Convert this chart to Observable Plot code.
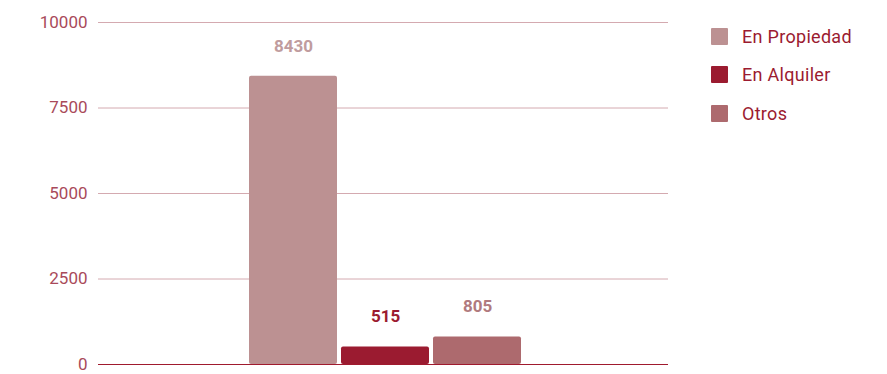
<!DOCTYPE html>
<html>
<head>
<meta charset="utf-8">
<script src="https://cdn.jsdelivr.net/npm/d3@7"></script>
<script src="https://cdn.jsdelivr.net/npm/@observablehq/plot@0.6"></script>
<style>
  body { margin: 0; background: #fff; font-family: Roboto, sans-serif; }
  #wrap { display: flex; width: 887px; height: 374px; }
  #legend { padding-top: 17px; padding-left: 21px; }
  .item { display: flex; align-items: center; height: 38.5px; }
  .sw { width: 17px; height: 17px; border-radius: 1px; margin-right: 14px; }
  .lab { font-size: 18px; letter-spacing: 0.3px; color: #9b1b30; }
</style>
</head>
<body>
<div id="wrap">
  <div id="chart"></div>
  <div id="legend"></div>
</div>
<script>
const categories = ["En Propiedad", "En Alquiler", "Otros"];
const values = [8430, 515, 805];
const barColors = ["#bc9192", "#9b1b30", "#ad6a6e"];
const labelColors = ["#c09c9e", "#9b1b30", "#b07a7e"];
const yTicks = [0, 2500, 5000, 7500, 10000];

const data = categories.map((c, i) => ({cat: c, value: values[i], lc: labelColors[i]}));

const chart = Plot.plot({
  width: 690,
  height: 374,
  marginLeft: 98,
  marginRight: 22,
  marginTop: 22,
  marginBottom: 10,
  style: {fontFamily: "Roboto, sans-serif", fontSize: "17px", background: "#fff", overflow: "visible"},
  x: {domain: categories, range: [249, 521], paddingInner: 0.045, paddingOuter: 0, axis: null},
  y: {domain: [0, 10000], ticks: yTicks},
  color: {domain: categories, range: barColors},
  marks: [
    Plot.gridY(yTicks.filter(t => t > 0), {stroke: "#d4aab0", strokeOpacity: 1, strokeWidth: 1}),
    Plot.axisY(yTicks, {tickSize: 0, tickPadding: 11, fill: "#a94a5a", fontSize: 17, label: null, tickFormat: d => String(d)}),
    Plot.barY(data, {x: "cat", y: "value", fill: "cat", rx: 2}),
    Plot.ruleY([0], {stroke: "#a01a2e", strokeWidth: 1.2}),
    Plot.text(data, {x: "cat", y: "value", text: d => String(d.value), fill: "lc", dy: -30, fontWeight: "bold", fontSize: 17})
  ]
});
document.getElementById("chart").appendChild(chart);

const legend = document.getElementById("legend");
categories.forEach((c, i) => {
  const item = document.createElement("div");
  item.className = "item";
  const sw = document.createElement("div");
  sw.className = "sw";
  sw.style.background = barColors[i];
  const lab = document.createElement("span");
  lab.className = "lab";
  lab.textContent = c;
  item.appendChild(sw);
  item.appendChild(lab);
  legend.appendChild(item);
});
</script>
</body>
</html>
